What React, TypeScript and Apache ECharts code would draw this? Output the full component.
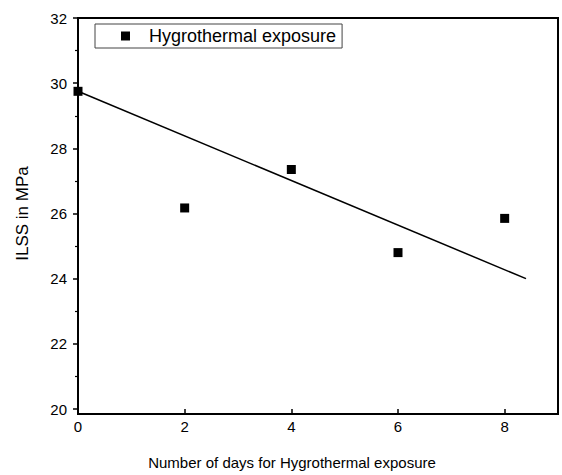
import React, { useEffect, useRef } from "react";
import * as echarts from "echarts";

const days = [0, 2, 4, 6, 8];
const ilss = [29.75, 26.17, 27.35, 24.8, 25.85];
const fitX = [0, 8.4];
const fitY = [29.75, 24.0];
const seriesName = "Hygrothermal exposure";
const xTitle = "Number of days for Hygrothermal exposure";
const yTitle = "ILSS in MPa";

const GRID = { left: 78, top: 18, width: 480, height: 396 };
const FRAME_W = 2;

export default function App() {
  const ref = useRef<HTMLDivElement>(null);
  useEffect(() => {
    if (!ref.current) return;
    const chart = echarts.init(ref.current, undefined, { renderer: "svg" });
    const font = "Arial, 'Liberation Sans', sans-serif";
    const tickSty = { color: "#000", width: 1.5 };
    const h = FRAME_W / 2;
    const L = GRID.left, T = GRID.top, R = GRID.left + GRID.width, B = GRID.top + GRID.height;
    const bar = (x: number, y: number, w: number, hh: number) => ({
      type: "rect",
      silent: true,
      z: 100,
      shape: { x, y, width: w, height: hh },
      style: { fill: "#000" },
    });
    chart.setOption({
      animation: false,
      backgroundColor: "#fff",
      textStyle: { fontFamily: font, color: "#000" },
      grid: {
        left: GRID.left,
        top: GRID.top,
        width: GRID.width,
        height: GRID.height,
      },
      graphic: [
        bar(L - h, T - h, FRAME_W, B - T + FRAME_W),
        bar(R - h, T - h, FRAME_W, B - T + FRAME_W),
        bar(L - h, T - h, R - L + FRAME_W, FRAME_W),
        bar(L - h, B - h, R - L + FRAME_W, FRAME_W),
      ],
      legend: {
        show: true,
        left: 95,
        top: 24,
        orient: "horizontal",
        padding: [3, 6, 3, 26],
        borderColor: "#444",
        borderWidth: 1,
        borderRadius: 0,
        itemWidth: 9,
        itemHeight: 9,
        data: [{ name: seriesName, icon: "rect" }],
        textStyle: {
          fontSize: 18,
          fontFamily: font,
          color: "#000",
          lineHeight: 18,
          padding: [0, 0, 0, 14],
        },
      },
      xAxis: {
        type: "value",
        min: 0,
        max: 9,
        interval: 2,
        name: xTitle,
        nameLocation: "middle",
        nameGap: 46,
        nameTextStyle: {
          fontSize: 15,
          fontFamily: font,
          color: "#000",
          padding: [0, 52, 0, 0],
        },
        axisLine: { show: false },
        axisTick: { show: true, inside: false, length: 5, lineStyle: tickSty },
        axisLabel: {
          fontSize: 15,
          color: "#000",
          margin: 10,
          fontFamily: font,
          formatter: (v: number) => (v % 2 === 0 && v <= 8 ? String(v) : ""),
        },
        splitLine: { show: false },
      },
      yAxis: {
        type: "value",
        min: 20,
        max: 32,
        interval: 2,
        name: yTitle,
        nameLocation: "middle",
        nameGap: 47,
        nameTextStyle: { fontSize: 17, fontFamily: font, color: "#000" },
        axisLine: { show: false },
        axisTick: { show: true, inside: false, length: 5, lineStyle: tickSty },
        minorTick: { show: true, splitNumber: 2, length: 3, lineStyle: { color: "#000", width: 1.2 } },
        axisLabel: { fontSize: 15, color: "#000", margin: 11, fontFamily: font },
        splitLine: { show: false },
      },
      series: [
        {
          name: seriesName,
          type: "scatter",
          symbol: "rect",
          symbolSize: 9,
          itemStyle: { color: "#000", opacity: 1 },
          data: days.map((d, i) => [d, ilss[i]]),
          z: 3,
        },
        {
          name: "fit",
          type: "line",
          showSymbol: false,
          symbol: "none",
          lineStyle: { color: "#000", width: 1.5 },
          data: fitX.map((x, i) => [x, fitY[i]]),
          z: 2,
        },
      ],
    });
    return () => chart.dispose();
  }, []);
  return (
    <div
      ref={ref}
      style={{ position: "fixed", left: 0, top: 0, width: 562, height: 475, background: "#fff" }}
    />
  );
}
